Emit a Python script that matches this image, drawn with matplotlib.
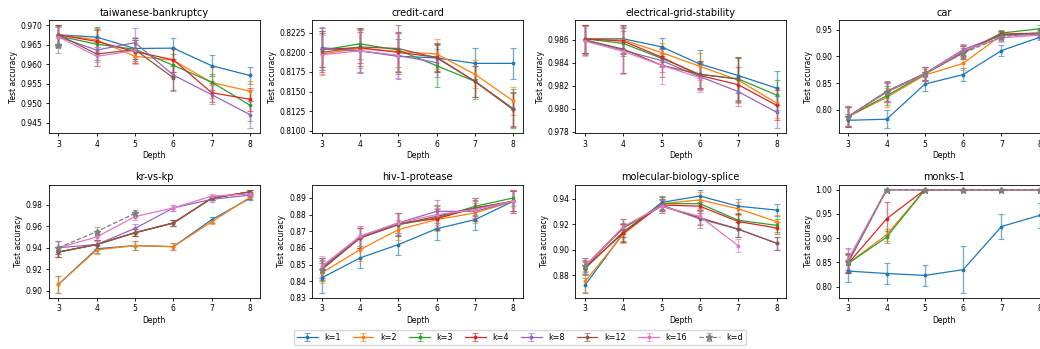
import numpy as np
import matplotlib
matplotlib.use('Agg')
import matplotlib.pyplot as plt

nan = np.nan
depths = [3, 4, 5, 6, 7, 8]
k_labels = ['k=1', 'k=2', 'k=3', 'k=4', 'k=8', 'k=12', 'k=16', 'k=d']
colors = ['tab:blue', 'tab:orange', 'tab:green', 'tab:red', 'tab:purple',
          'tab:brown', 'tab:pink', 'tab:gray']
titles = ['taiwanese-bankruptcy', 'credit-card', 'electrical-grid-stability', 'car',
          'kr-vs-kp', 'hiv-1-protease', 'molecular-biology-splice', 'monks-1']

# rows = k values (same order as k_labels), columns = depth 3..8
taiwan_acc = [
    [0.9675, 0.9669, 0.9640, 0.9641, 0.9596, 0.9571],
    [0.9675, 0.9662, 0.9620, 0.9610, 0.9553, 0.9531],
    [0.9672, 0.9651, 0.9638, 0.9597, 0.9554, 0.9495],
    [0.9675, 0.9658, 0.9632, 0.9611, 0.9527, 0.9510],
    [0.9670, 0.9636, 0.9655, 0.9572, 0.9522, 0.9471],
    [0.9675, 0.9626, 0.9637, 0.9565, nan, nan],
    [0.9670, 0.9620, 0.9635, nan, nan, nan],
    [0.9648, nan, nan, nan, nan, nan],
]
taiwan_err = [
    [0.0025, 0.0025, 0.0028, 0.0027, 0.0027, 0.0022],
    [0.0025, 0.0030, 0.0018, 0.0030, 0.0040, 0.0025],
    [0.0025, 0.0040, 0.0025, 0.0030, 0.0020, 0.0040],
    [0.0025, 0.0030, 0.0030, 0.0030, 0.0025, 0.0030],
    [0.0025, 0.0030, 0.0037, 0.0040, 0.0025, 0.0035],
    [0.0025, 0.0030, 0.0030, 0.0030, nan, nan],
    [0.0025, 0.0025, 0.0035, nan, nan, nan],
    [0.0020, nan, nan, nan, nan, nan],
]

credit_acc = [
    [0.8206, 0.8202, 0.8195, 0.8193, 0.8186, 0.8186],
    [0.8198, 0.8205, 0.8201, 0.8198, 0.8172, 0.8138],
    [0.8203, 0.8211, 0.8203, 0.8183, 0.8163, 0.8128],
    [0.8204, 0.8206, 0.8200, 0.8194, 0.8163, 0.8127],
    [0.8205, 0.8202, 0.8196, 0.8187, nan, nan],
    [0.8200, 0.8207, 0.8205, 0.8193, 0.8163, 0.8127],
    [0.8197, 0.8202, 0.8196, nan, nan, nan],
    [nan, nan, nan, nan, nan, nan],
]
credit_err = [
    [0.0025, 0.0028, 0.0022, 0.0018, 0.0020, 0.0020],
    [0.0027, 0.0025, 0.0025, 0.0019, 0.0018, 0.0018],
    [0.0025, 0.0020, 0.0022, 0.0027, 0.0023, 0.0025],
    [0.0023, 0.0020, 0.0025, 0.0018, 0.0020, 0.0021],
    [0.0028, 0.0027, 0.0030, 0.0018, nan, nan],
    [0.0025, 0.0024, 0.0030, 0.0018, 0.0020, 0.0023],
    [0.0025, 0.0027, 0.0029, nan, nan, nan],
    [nan, nan, nan, nan, nan, nan],
]

grid_acc = [
    [0.9861, 0.9861, 0.9854, 0.9839, 0.9829, 0.9818],
    [0.9861, 0.9860, 0.9849, 0.9837, 0.9825, 0.9805],
    [0.9861, 0.9857, 0.9844, 0.9830, 0.9826, 0.9812],
    [0.9861, 0.9859, 0.9845, 0.9829, 0.9821, 0.9803],
    [0.9860, 0.9851, 0.9842, 0.9828, 0.9815, 0.9797],
    [0.9860, 0.9852, 0.9838, 0.9830, 0.9826, nan],
    [0.9859, 0.9850, 0.9838, 0.9827, nan, nan],
    [nan, nan, nan, nan, nan, nan],
]
grid_err = [
    [0.0012, 0.0012, 0.0008, 0.0012, 0.0015, 0.0015],
    [0.0012, 0.0012, 0.0008, 0.0012, 0.0020, 0.0013],
    [0.0012, 0.0011, 0.0008, 0.0012, 0.0018, 0.0013],
    [0.0012, 0.0011, 0.0008, 0.0012, 0.0015, 0.0013],
    [0.0012, 0.0020, 0.0010, 0.0012, 0.0013, 0.0014],
    [0.0013, 0.0021, 0.0010, 0.0012, 0.0019, nan],
    [0.0013, 0.0020, 0.0016, 0.0012, nan, nan],
    [nan, nan, nan, nan, nan, nan],
]

car_acc = [
    [0.780, 0.782, 0.848, 0.866, 0.911, 0.936],
    [0.787, 0.823, 0.865, 0.887, 0.940, 0.944],
    [0.787, 0.826, 0.867, 0.907, 0.944, 0.952],
    [0.787, 0.833, 0.867, 0.909, 0.942, 0.944],
    [0.787, 0.834, 0.868, 0.913, 0.940, 0.941],
    [0.787, 0.834, 0.868, 0.909, 0.941, 0.943],
    [0.787, 0.833, 0.867, 0.911, 0.935, 0.940],
    [0.787, 0.834, 0.868, 0.906, 0.937, 0.944],
]
car_err = [
    [0.012, 0.017, 0.013, 0.013, 0.010, 0.006],
    [0.018, 0.018, 0.012, 0.013, 0.008, 0.007],
    [0.018, 0.018, 0.013, 0.012, 0.006, 0.007],
    [0.020, 0.018, 0.013, 0.012, 0.006, 0.007],
    [0.018, 0.018, 0.013, 0.010, 0.006, 0.007],
    [0.018, 0.019, 0.013, 0.010, 0.007, 0.007],
    [0.018, 0.018, 0.013, 0.010, 0.008, 0.008],
    [0.018, 0.018, 0.013, 0.010, 0.008, 0.007],
]

krkp_acc = [
    [0.906, 0.939, 0.942, 0.941, 0.966, 0.986],
    [0.906, 0.938, 0.942, 0.941, 0.964, 0.987],
    [0.936, 0.943, 0.954, 0.963, 0.986, 0.992],
    [0.936, 0.943, 0.954, 0.963, 0.986, 0.992],
    [0.940, 0.943, 0.958, 0.977, 0.985, 0.989],
    [0.936, 0.943, 0.954, 0.963, 0.986, 0.992],
    [0.940, 0.950, 0.969, 0.977, 0.988, 0.990],
    [0.940, 0.955, 0.972, nan, nan, nan],
]
krkp_err = [
    [0.008, 0.004, 0.004, 0.003, 0.003, 0.002],
    [0.008, 0.004, 0.004, 0.003, 0.002, 0.002],
    [0.005, 0.004, 0.003, 0.003, 0.002, 0.002],
    [0.005, 0.004, 0.003, 0.003, 0.002, 0.002],
    [0.006, 0.004, 0.004, 0.003, 0.002, 0.002],
    [0.005, 0.004, 0.003, 0.003, 0.002, 0.002],
    [0.006, 0.004, 0.003, 0.003, 0.002, 0.002],
    [0.006, 0.004, 0.003, nan, nan, nan],
]

hiv_acc = [
    [0.842, 0.854, 0.862, 0.8715, 0.877, 0.888],
    [0.845, 0.859, 0.871, 0.877, 0.881, 0.888],
    [0.847, 0.866, 0.874, 0.878, 0.885, 0.890],
    [0.848, 0.866, 0.875, 0.8775, 0.884, 0.888],
    [0.848, 0.867, 0.875, 0.882, 0.882, 0.888],
    [0.847, 0.866, 0.874, 0.879, 0.884, 0.888],
    [0.849, 0.867, 0.875, 0.880, 0.883, 0.888],
    [0.847, nan, nan, nan, nan, nan],
]
hiv_err = [
    [0.009, 0.006, 0.006, 0.007, 0.006, 0.006],
    [0.006, 0.007, 0.006, 0.007, 0.006, 0.006],
    [0.007, 0.006, 0.007, 0.007, 0.005, 0.005],
    [0.006, 0.006, 0.006, 0.006, 0.005, 0.006],
    [0.006, 0.006, 0.006, 0.007, 0.006, 0.007],
    [0.006, 0.006, 0.007, 0.007, 0.006, 0.007],
    [0.006, 0.006, 0.006, 0.006, 0.007, 0.007],
    [0.005, nan, nan, nan, nan, nan],
]

splice_acc = [
    [0.872, 0.913, 0.937, 0.942, 0.934, 0.931],
    [0.875, 0.912, 0.936, 0.939, 0.932, 0.922],
    [0.885, 0.914, 0.936, 0.936, 0.923, 0.919],
    [0.886, 0.913, 0.935, 0.934, 0.922, 0.917],
    [0.887, 0.917, 0.935, 0.924, 0.916, 0.905],
    [0.887, 0.917, 0.934, 0.925, 0.916, 0.905],
    [0.887, 0.918, 0.934, 0.926, 0.903, nan],
    [0.887, nan, nan, nan, nan, nan],
]
splice_err = [
    [0.006, 0.007, 0.005, 0.005, 0.006, 0.005],
    [0.008, 0.007, 0.005, 0.006, 0.005, 0.005],
    [0.005, 0.007, 0.005, 0.006, 0.006, 0.005],
    [0.005, 0.007, 0.005, 0.005, 0.006, 0.005],
    [0.006, 0.007, 0.005, 0.007, 0.006, 0.005],
    [0.006, 0.007, 0.005, 0.006, 0.006, 0.005],
    [0.006, 0.006, 0.005, 0.006, 0.005, nan],
    [0.005, nan, nan, nan, nan, nan],
]

monks_acc = [
    [0.832, 0.827, 0.823, 0.835, 0.924, 0.947],
    [0.848, 0.907, 1.0, 1.0, 1.0, 1.0],
    [0.848, 0.902, 1.0, 1.0, 1.0, 1.0],
    [0.848, 0.940, 1.0, 1.0, 1.0, 1.0],
    [0.855, 1.0, 1.0, 1.0, 1.0, 1.0],
    [0.850, 1.0, 1.0, 1.0, 1.0, 1.0],
    [0.857, 1.0, 1.0, 1.0, 1.0, 1.0],
    [0.850, 1.0, 1.0, 1.0, 1.0, 1.0],
]
monks_err = [
    [0.022, 0.022, 0.021, 0.048, 0.026, 0.026],
    [0.020, 0.012, 0.0, 0.0, 0.0, 0.0],
    [0.020, 0.012, 0.0, 0.0, 0.0, 0.0],
    [0.020, 0.034, 0.0, 0.0, 0.0, 0.0],
    [0.025, 0.0, 0.0, 0.0, 0.0, 0.0],
    [0.020, 0.0, 0.0, 0.0, 0.0, 0.0],
    [0.020, 0.0, 0.0, 0.0, 0.0, 0.0],
    [0.015, 0.0, 0.0, 0.0, 0.0, 0.0],
]

all_acc = [taiwan_acc, credit_acc, grid_acc, car_acc, krkp_acc, hiv_acc, splice_acc, monks_acc]
all_err = [taiwan_err, credit_err, grid_err, car_err, krkp_err, hiv_err, splice_err, monks_err]

fig, axs = plt.subplots(2, 4, figsize=(10.4, 3.49), dpi=100)
# right > 1: the last column runs off the picture, as in the original
plt.subplots_adjust(left=0.047, right=1.009, top=0.943, bottom=0.146,
                    wspace=0.25, hspace=0.45)
axs = axs.flatten()

handles = []
for i, ax in enumerate(axs):
    acc = all_acc[i]
    err = all_err[i]
    for j in range(len(k_labels)):
        y = np.array(acc[j], dtype=float)
        e = np.array(err[j], dtype=float)
        if np.all(np.isnan(y)):
            continue
        if k_labels[j] == 'k=d':
            ls, mk, ms = '--', '*', 5
        else:
            ls, mk, ms = '-', '.', 3.5
        eb = ax.errorbar(depths, y, yerr=e, color=colors[j], linestyle=ls,
                         marker=mk, markersize=ms, linewidth=0.9,
                         elinewidth=1.0, capsize=2, capthick=0.8,
                         label=k_labels[j])
        for c in eb[1]:
            c.set_alpha(0.6)
        for b in eb[2]:
            b.set_alpha(0.6)
        if i == 3:
            handles.append(eb)
    ax.set_title(titles[i], fontsize=7, pad=3)
    ax.set_xlabel('Depth', fontsize=5.5, labelpad=2)
    ax.set_ylabel('Test accuracy', fontsize=5.5, labelpad=2)
    ax.set_xticks(depths)
    ax.tick_params(labelsize=5.5, length=2.5, width=0.6, pad=2)
    for s in ax.spines.values():
        s.set_linewidth(0.6)

axs[2].set_yticks([0.978, 0.980, 0.982, 0.984, 0.986])

fig.legend(handles=handles, labels=k_labels, loc='lower center',
           bbox_to_anchor=(0.5, 0.0), ncol=8, fontsize=5.8,
           handlelength=2.5, columnspacing=1.6, borderpad=0.4)

plt.savefig('out.png', dpi=100)
